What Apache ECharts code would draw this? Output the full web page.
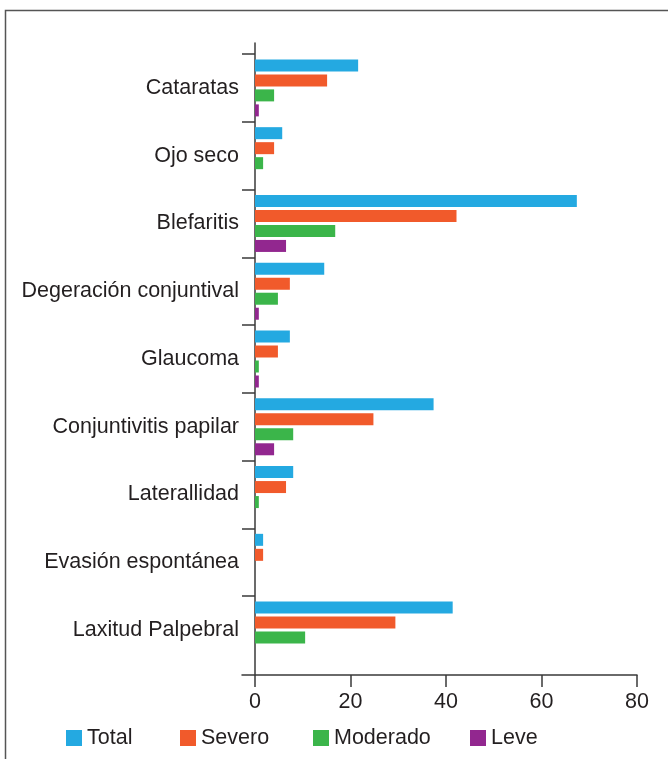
<!DOCTYPE html>
<html>
<head>
<meta charset="utf-8">
<script src="https://cdn.jsdelivr.net/npm/echarts@6/dist/echarts.min.js"></script>
<style>
  html, body { margin: 0; padding: 0; background: #fff; }
  #chart { width: 668px; height: 759px; }
</style>
</head>
<body>
<div id="chart"></div>
<script>
// categorias de arriba a abajo
var categorias = ["Cataratas", "Ojo seco", "Blefaritis", "Degeración conjuntival", "Glaucoma",
  "Conjuntivitis papilar", "Laterallidad", "Evasión espontánea", "Laxitud Palpebral"];
var total    = [21.6, 5.7, 67.4, 14.5, 7.3, 37.4, 8.0, 1.7, 41.4];
var severo   = [15.1, 4.0, 42.2, 7.3, 4.8, 24.8, 6.5, 1.7, 29.4];
var moderado = [4.0, 1.7, 16.8, 4.8, 0.8, 8.0, 0.8, null, 10.5];
var leve     = [0.8, null, 6.5, 0.8, 0.8, 4.0, null, null, null];
var xTicks = [0, 80, 20];

var font = "Liberation Sans";
var fs = 21.5;
var txt = "#231f20";
var eje = "#3a3a3a";

var chart = echarts.init(document.getElementById("chart"));

function serie (nombre, datos, color) {
  return {
    name: nombre,
    type: "bar",
    xAxisIndex: 0,
    yAxisIndex: 0,
    data: datos,
    barWidth: 12,
    barGap: "25%",
    itemStyle: { color: color },
    animation: false
  };
}

function leyenda (nombre, x) {
  return {
    data: [nombre],
    left: x,
    top: 727,
    padding: 0,
    icon: "rect",
    itemWidth: 16,
    itemHeight: 16,
    textStyle: { fontFamily: font, fontSize: fs, color: txt },
    selectedMode: false
  };
}

var option = {
  textStyle: { fontFamily: font },
  animation: false,
  graphic: [{
    type: "rect",
    shape: { x: 5.5, y: 10.5, width: 720, height: 800 },
    style: { fill: null, stroke: "#555", lineWidth: 1.5 },
    silent: true
  }],
  legend: [
    leyenda("Total", 66),
    leyenda("Severo", 180),
    leyenda("Moderado", 313),
    leyenda("Leve", 470)
  ],
  grid: [
    { left: 255, right: 31, top: 54, bottom: 95 },
    { left: 242, right: 31, top: 43, bottom: 84 }
  ],
  xAxis: [
    {
      type: "value", gridIndex: 0, position: "bottom",
      min: xTicks[0], max: xTicks[1], interval: xTicks[2],
      offset: 11,
      axisLine: { show: false, onZero: false },
      axisTick: { show: true, length: 12, lineStyle: { color: eje, width: 1.5 } },
      axisLabel: { fontSize: fs, color: txt, margin: 16, fontFamily: font },
      splitLine: { show: false }
    },
    {
      type: "value", gridIndex: 1, min: 0, max: 1, position: "bottom",
      axisLine: { show: true, onZero: false, lineStyle: { color: eje, width: 1.5 } },
      axisTick: { show: false }, axisLabel: { show: false }, splitLine: { show: false }
    }
  ],
  yAxis: [
    {
      type: "category", gridIndex: 0, inverse: true, position: "left",
      data: categorias,
      axisLine: { show: false, onZero: false },
      axisTick: { show: false },
      axisLabel: { fontSize: fs, color: txt, margin: 16, fontFamily: font, padding: [0, 0, 3, 0] }
    },
    {
      type: "value", gridIndex: 0, inverse: true, position: "left",
      min: 0, max: 9, interval: 1,
      axisLine: { show: false, onZero: false },
      axisTick: { show: true, length: 13, customValues: [0, 1, 2, 3, 4, 5, 6, 7, 8],
        lineStyle: { color: eje, width: 1.5 } },
      axisLabel: { show: false },
      splitLine: { show: false }
    },
    {
      type: "value", gridIndex: 1, position: "left", offset: -13, min: 0, max: 1,
      axisLine: { show: true, onZero: false, lineStyle: { color: eje, width: 1.5 } },
      axisTick: { show: false }, axisLabel: { show: false }, splitLine: { show: false }
    }
  ],
  series: [
    serie("Total", total, "#24a9e1"),
    serie("Severo", severo, "#f15a2b"),
    serie("Moderado", moderado, "#3bb54a"),
    serie("Leve", leve, "#92278f")
  ]
};

chart.setOption(option);
</script>
</body>
</html>
